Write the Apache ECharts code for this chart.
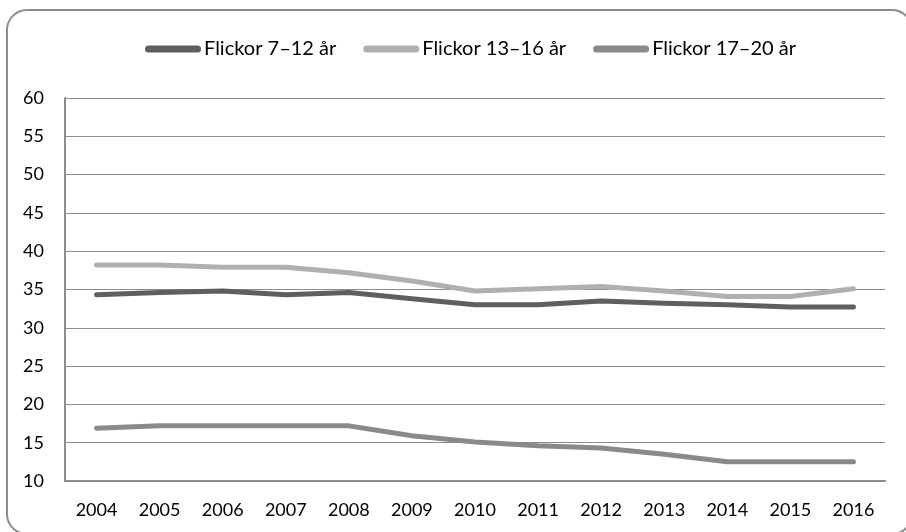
<!DOCTYPE html>
<html>
<head>
<meta charset="utf-8">
<script src="https://cdn.jsdelivr.net/npm/echarts@6/dist/echarts.min.js"></script>
<style>
  html, body { margin: 0; padding: 0; background: #ffffff; }
  #chart { width: 906px; height: 532px; }
</style>
</head>
<body>
<div id="chart"></div>
<script>
// Years on the x axis
const years = ['2004', '2005', '2006', '2007', '2008', '2009', '2010', '2011', '2012', '2013', '2014', '2015', '2016'];

// Series names
const seriesNames = ['Flickor 7–12 år', 'Flickor 13–16 år', 'Flickor 17–20 år'];

// Values per age group
const girls7to12 = [34.3, 34.6, 34.8, 34.3, 34.6, 33.8, 33.0, 33.0, 33.5, 33.2, 33.0, 32.7, 32.7];
const girls13to16 = [38.2, 38.2, 37.9, 37.9, 37.2, 36.1, 34.8, 35.1, 35.4, 34.8, 34.1, 34.1, 35.1];
const girls17to20 = [16.9, 17.2, 17.2, 17.2, 17.2, 15.9, 15.1, 14.6, 14.3, 13.5, 12.5, 12.5, 12.5];

// Y axis range
const yMin = 10;
const yMax = 60;
const yStep = 5;

const colors = ['#5f5f5f', '#b0b0b0', '#8a8a8a'];
const fontFamily = 'Lato, "Liberation Sans", sans-serif';

// Legend marker: a thick line with rounded ends
const lineIcon = 'path://M3.5,0 L52.5,0 A3.5,3.5 0 0 1 52.5,7 L3.5,7 A3.5,3.5 0 0 1 3.5,0 Z';

const chart = echarts.init(document.getElementById('chart'), null, { renderer: 'canvas' });

const makeLine = (name, data, color) => ({
  name: name,
  type: 'line',
  data: data,
  symbol: 'none',
  smooth: false,
  lineStyle: { color: color, width: 5, cap: 'round', join: 'round' },
  itemStyle: { color: color },
  animation: false
});

chart.setOption({
  animation: false,
  backgroundColor: '#ffffff',
  color: colors,
  graphic: [{
    type: 'rect',
    shape: { x: 7, y: 10, width: 905, height: 524, r: 20 },
    style: { fill: 'none', stroke: '#8c8c8c', lineWidth: 2 },
    silent: true,
    z: 100
  }],
  legend: {
    top: 34,
    left: 140,
    itemWidth: 56,
    itemHeight: 7,
    itemGap: 27,
    icon: lineIcon,
    textStyle: { fontFamily: fontFamily, fontSize: 20, color: '#000000', padding: [0, 0, 0, -2] },
    data: seriesNames
  },
  grid: { left: 65, right: 21, top: 98, bottom: 51, containLabel: false },
  xAxis: {
    type: 'category',
    data: years,
    boundaryGap: true,
    axisLine: { show: true, lineStyle: { color: '#8c8c8c', width: 2 } },
    axisTick: { show: false },
    axisLabel: { fontFamily: fontFamily, fontSize: 18, color: '#000000', margin: 20 }
  },
  yAxis: {
    type: 'value',
    min: yMin,
    max: yMax,
    interval: yStep,
    axisLine: { show: true, lineStyle: { color: '#8c8c8c', width: 2 } },
    axisTick: { show: false },
    axisLabel: { fontFamily: fontFamily, fontSize: 18, color: '#000000', margin: 21 },
    splitLine: { show: true, lineStyle: { color: '#8c8c8c', width: 1 } }
  },
  series: [
    makeLine(seriesNames[0], girls7to12, colors[0]),
    makeLine(seriesNames[1], girls13to16, colors[1]),
    makeLine(seriesNames[2], girls17to20, colors[2])
  ]
});
</script>
</body>
</html>
